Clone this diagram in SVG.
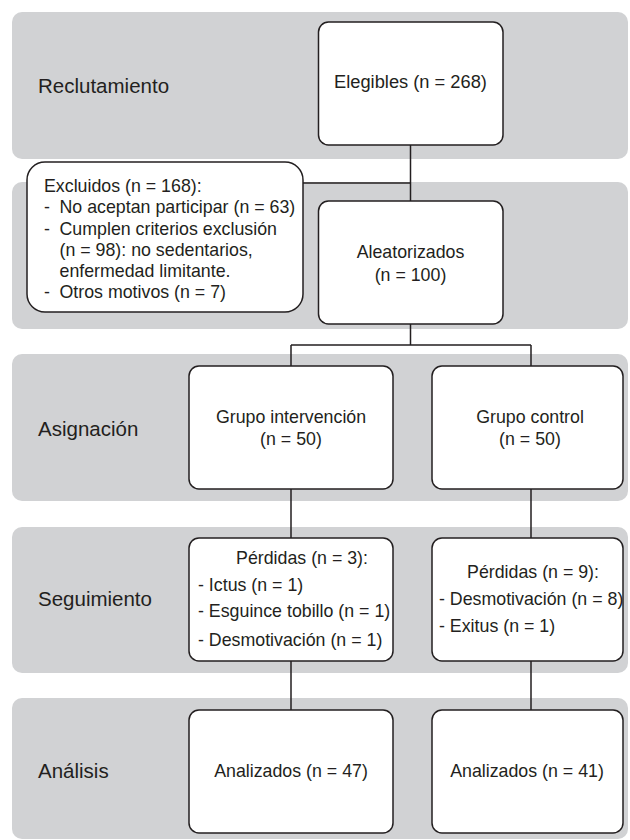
<svg xmlns="http://www.w3.org/2000/svg" width="630" height="840" viewBox="0 0 630 840">
<style>
.band{fill:#d1d2d4;}
.box{fill:#ffffff;stroke:#231f20;stroke-width:1.5;}
.line{fill:none;stroke:#231f20;stroke-width:1.5;}
text{font-family:"Liberation Sans",Arial,sans-serif;fill:#231f20;}
.lbl{font-size:20.5px;}
.t{font-size:17.8px;}
.c{text-anchor:middle;}
</style>
<rect width="630" height="840" fill="#ffffff"/>
<g id="bands">
<rect class="band" x="12" y="12" width="616" height="147" rx="10"/>
<rect class="band" x="12" y="182" width="616" height="147" rx="10"/>
<rect class="band" x="12" y="354" width="616" height="147" rx="10"/>
<rect class="band" x="12" y="527" width="616" height="146" rx="10"/>
<rect class="band" x="12" y="698" width="616" height="141" rx="10"/>
</g>
<g id="stage-labels">
<text class="lbl" x="38" y="93">Reclutamiento</text>
<text class="lbl" x="38" y="436">Asignación</text>
<text class="lbl" x="38" y="606">Seguimiento</text>
<text class="lbl" x="38" y="778">Análisis</text>
</g>
<g id="connectors">
<path class="line" d="M410.5 145 V201"/>
<path class="line" d="M303 183 H410.5"/>
<path class="line" d="M410.5 324 V345 M291 345 H531 M291 345 V366 M531 345 V366"/>
<path class="line" d="M291 489 V538 M531 489 V538"/>
<path class="line" d="M291 661 V710 M531 661 V710"/>
</g>
<g id="elegibles">
<rect class="box" x="318.5" y="22" width="184.5" height="123" rx="10"/>
<text class="t c" x="410.5" y="88" style="font-size:18.3px">Elegibles (n = 268)</text>
</g>
<g id="excluidos">
<rect class="box" x="27" y="162" width="276" height="150" rx="18"/>
<text class="t" x="44" y="192">Excluidos (n = 168):</text>
<text class="t" x="44" y="213">-</text><text class="t" x="59.5" y="213">No aceptan participar (n = 63)</text>
<text class="t" x="44" y="235">-</text><text class="t" x="59.5" y="235">Cumplen criterios exclusión</text>
<text class="t" x="59.5" y="256">(n = 98): no sedentarios,</text>
<text class="t" x="59.5" y="277">enfermedad limitante.</text>
<text class="t" x="44" y="298">-</text><text class="t" x="59.5" y="298">Otros motivos (n = 7)</text>
</g>
<g id="aleatorizados">
<rect class="box" x="318.5" y="201" width="184.5" height="123" rx="10"/>
<text class="t c" x="410.5" y="258">Aleatorizados</text>
<text class="t c" x="410.5" y="281">(n = 100)</text>
</g>
<g id="grupo-intervencion">
<rect class="box" x="189" y="366" width="204" height="123" rx="10"/>
<text class="t c" x="291" y="423">Grupo intervención</text>
<text class="t c" x="291" y="445">(n = 50)</text>
</g>
<g id="grupo-control">
<rect class="box" x="432" y="366" width="191" height="123" rx="10"/>
<text class="t c" x="530" y="423">Grupo control</text>
<text class="t c" x="530" y="445">(n = 50)</text>
</g>
<g id="perdidas-intervencion">
<rect class="box" x="189" y="538" width="204" height="123" rx="10"/>
<text class="t c" x="302" y="564">Pérdidas (n = 3):</text>
<text class="t" x="198" y="591">- Ictus (n = 1)</text>
<text class="t" x="198" y="617">- Esguince tobillo (n = 1)</text>
<text class="t" x="198" y="646">- Desmotivación (n = 1)</text>
</g>
<g id="perdidas-control">
<rect class="box" x="432" y="538" width="191" height="123" rx="10"/>
<text class="t c" x="533" y="578">Pérdidas (n = 9):</text>
<text class="t" x="439" y="605">- Desmotivación (n = 8)</text>
<text class="t" x="439" y="632">- Exitus (n = 1)</text>
</g>
<g id="analizados-intervencion">
<rect class="box" x="189" y="710" width="204" height="123" rx="10"/>
<text class="t c" x="291" y="777">Analizados (n = 47)</text>
</g>
<g id="analizados-control">
<rect class="box" x="432" y="710" width="191" height="123" rx="10"/>
<text class="t c" x="527" y="777">Analizados (n = 41)</text>
</g>
</svg>
